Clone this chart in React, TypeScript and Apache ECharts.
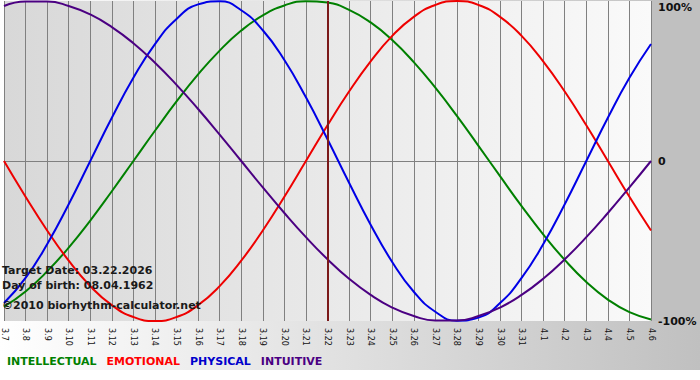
import React, { useEffect, useRef } from "react";
import * as echarts from "echarts";

const categories = [
  "3.7", "3.8", "3.9", "3.10", "3.11", "3.12", "3.13", "3.14", "3.15", "3.16",
  "3.17", "3.18", "3.19", "3.20", "3.21", "3.22", "3.23", "3.24", "3.25", "3.26",
  "3.27", "3.28", "3.29", "3.30", "3.31", "4.1", "4.2", "4.3", "4.4", "4.5", "4.6",
];

const intellectual = [
  -91.0, -81.5, -69.0, -54.1, -37.2, -18.9, 0, 18.9, 37.2, 54.1,
  69.0, 81.5, 91.0, 97.2, 99.9, 99.0, 94.5, 86.6, 75.6, 61.8,
  45.8, 28.2, 9.5, -9.5, -28.2, -45.8, -61.8, -75.6, -86.6, -94.5, -99.0,
];
const emotional = [
  0, -22.3, -43.4, -62.3, -78.2, -90.1, -97.5, -100, -97.5, -90.1,
  -78.2, -62.3, -43.4, -22.3, 0, 22.3, 43.4, 62.3, 78.2, 90.1,
  97.5, 100, 97.5, 90.1, 78.2, 62.3, 43.4, 22.3, 0, -22.3, -43.4,
];
const physical = [
  -88.8, -73.1, -52.0, -27.0, 0, 27.0, 52.0, 73.1, 88.8, 97.9,
  99.8, 94.2, 81.7, 63.1, 39.8, 13.6, -13.6, -39.8, -63.1, -81.7,
  -94.2, -99.8, -97.9, -88.8, -73.1, -52.0, -27.0, 0, 27.0, 52.0, 73.1,
];
const intuitive = [
  96.9, 99.7, 99.7, 96.9, 91.6, 83.7, 73.6, 61.4, 47.6, 32.5,
  16.5, 0, -16.5, -32.5, -47.6, -61.4, -73.6, -83.7, -91.6, -96.9,
  -99.7, -99.7, -96.9, -91.6, -83.7, -73.6, -61.4, -47.6, -32.5, -16.5, 0,
];

const yTicks = [-100, 0, 100];
const targetDay = "3.22";
const infoLines = [
  "Target Date: 03.22.2026",
  "Day of birth: 08.04.1962",
  "\u00a92010 biorhythm-calculator.net",
];

const FONT = "'DejaVu Sans', Verdana, sans-serif";

export default function App() {
  const ref = useRef<HTMLDivElement>(null);

  useEffect(() => {
    if (!ref.current) return;
    const chart = echarts.init(ref.current, null, { renderer: "svg" });

    const seriesDefs = [
      { name: "INTELLECTUAL", data: intellectual, color: "#008000", legend: "#008000" },
      { name: "EMOTIONAL", data: emotional, color: "#ee0000", legend: "#ff0000" },
      { name: "PHYSICAL", data: physical, color: "#0000e6", legend: "#0000cc" },
      { name: "INTUITIVE", data: intuitive, color: "#4b0082", legend: "#4b0082" },
    ];

    const series: any[] = seriesDefs.map((s, i) => ({
      name: s.name,
      type: "line",
      data: s.data,
      smooth: 0.5,
      symbol: "none",
      lineStyle: { width: 2, color: s.color },
      itemStyle: { color: s.color },
      z: 3,
      ...(i === 0
        ? {
            markLine: {
              silent: true,
              symbol: "none",
              label: { show: false },
              lineStyle: { color: "#7b1a1a", width: 2, type: "solid" },
              data: [{ xAxis: targetDay }],
            },
          }
        : {}),
    }));

    chart.setOption({
      animation: false,
      backgroundColor: "#ffffff",
      grid: {
        left: 0,
        right: 49,
        top: 1,
        bottom: 59,
        show: true,
        borderWidth: 0,
        backgroundColor: new echarts.graphic.LinearGradient(0, 0, 1, 0, [
          { offset: 0, color: "#d8d8d8" },
          { offset: 1, color: "#fafafa" },
        ]),
      },
      graphic: [
        {
          type: "rect",
          z: -10,
          silent: true,
          shape: { x: 0, y: 0, width: 700, height: 370 },
          style: {
            fill: new echarts.graphic.LinearGradient(0, 0, 1, 0, [
              { offset: 0, color: "#ffffff" },
              { offset: 1, color: "#c0c0c0" },
            ]),
          },
        },
        {
          type: "rect",
          z: -9,
          silent: true,
          shape: { x: 651, y: 0, width: 49, height: 321 },
          style: { fill: "#c0c0c0" },
        },
        ...infoLines.map((t, i) => ({
          type: "text",
          z: 100,
          silent: true,
          left: 2,
          top: [265, 280, 300][i],
          style: {
            text: t,
            fill: "#1a1a1a",
            font: `bold 11px ${FONT}`,
          },
        })),
      ],
      legend: {
        left: -3,
        top: 349,
        icon: "none",
        itemWidth: 0,
        itemHeight: 14,
        itemGap: 5,
        selectedMode: false,
        textStyle: { fontFamily: FONT, fontWeight: "bold", fontSize: 11 },
        data: seriesDefs.map((s) => ({ name: s.name, textStyle: { color: s.legend } })),
      },
      xAxis: {
        type: "category",
        data: categories,
        boundaryGap: false,
        z: 2,
        axisLine: { show: true, lineStyle: { color: "#808080", width: 1 } },
        axisTick: { show: true, interval: 0, length: 5, lineStyle: { color: "#808080" } },
        splitLine: { show: true, interval: 0, lineStyle: { color: "#808080", width: 1 } },
        axisLabel: {
          interval: 0,
          rotate: -90,
          margin: 7,
          fontSize: 8,
          fontFamily: FONT,
          color: "#111111",
        },
      },
      yAxis: {
        type: "value",
        position: "right",
        min: yTicks[0],
        max: yTicks[yTicks.length - 1],
        interval: 100,
        z: 2,
        axisLine: { show: false },
        axisTick: { show: false },
        splitLine: {
          show: true,
          lineStyle: { color: ["rgba(0,0,0,0)", "#808080", "rgba(0,0,0,0)"], width: 1 },
        },
        axisLabel: {
          margin: 7,
          fontSize: 11,
          fontWeight: "bold",
          fontFamily: FONT,
          color: "#111111",
          formatter: (v: number) => (v === 100 ? "{top|100%}" : v === 0 ? "0" : `${v}%`),
          rich: {
            top: {
              fontSize: 11,
              fontWeight: "bold",
              fontFamily: FONT,
              color: "#111111",
              padding: [13, 0, 0, 0],
            },
          },
        },
      },
      series,
    });

    return () => chart.dispose();
  }, []);

  return (
    <div
      ref={ref}
      style={{ position: "absolute", left: 0, top: 0, width: 700, height: 380 }}
    />
  );
}
